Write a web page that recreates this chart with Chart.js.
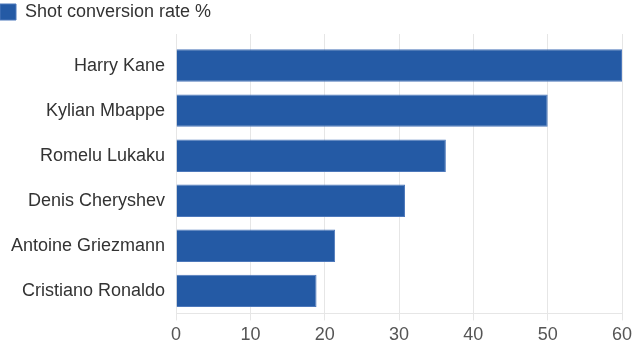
<!DOCTYPE html>
<html><head><meta charset="utf-8">
<script src="https://cdn.jsdelivr.net/npm/chart.js@4"></script>
<style>html,body{margin:0;padding:0;background:#fff}#wrap{width:640px;height:356px;position:relative}</style>
</head><body><div id="wrap"><canvas id="c"></canvas></div>
<script>
const categories = ['Harry Kane', 'Kylian Mbappe', 'Romelu Lukaku', 'Denis Cheryshev', 'Antoine Griezmann', 'Cristiano Ronaldo'];
const seriesName = 'Shot conversion rate %';
const values = [60, 50, 36.3, 30.8, 21.4, 18.9];
const xMin = 0, xMax = 60, xStep = 10;

const FONT = {family: '"Liberation Sans", Arial, sans-serif', size: 18};
const GRID = '#e6e6e6';

new Chart(document.getElementById('c'), {
  type: 'bar',
  data: {
    labels: categories,
    datasets: [{
      label: seriesName,
      data: values,
      backgroundColor: '#245aa5',
      borderColor: '#4d78bb',
      borderWidth: 1,
      barPercentage: 0.9,
      categoryPercentage: 0.8,
      xAxisID: 'x',
      yAxisID: 'y'
    }]
  },
  options: {
    indexAxis: 'y',
    responsive: true,
    maintainAspectRatio: false,
    animation: false,
    layout: {padding: {left: 0, right: 18, top: 3, bottom: 6}},
    plugins: {
      legend: {
        position: 'top',
        align: 'start',
        labels: {boxWidth: 16, boxHeight: 16, padding: 0, font: FONT, color: '#333'}
      },
      tooltip: {enabled: false}
    },
    scales: {
      x: {
        type: 'linear',
        position: 'bottom',
        min: xMin, max: xMax,
        ticks: {stepSize: xStep, font: FONT, color: '#555', padding: 4},
        grid: {color: GRID, tickLength: 7},
        border: {color: GRID}
      },
      x2: {
        type: 'linear',
        position: 'top',
        min: xMin, max: xMax,
        ticks: {stepSize: xStep, display: false},
        grid: {color: GRID, tickLength: 9, drawOnChartArea: false},
        border: {display: false},
        afterFit: s => { s.height += 3; }
      },
      y: {
        grid: {display: false, drawTicks: false},
        border: {display: false},
        ticks: {font: FONT, color: '#333', padding: 11}
      }
    }
  }
});
</script>
</body></html>
